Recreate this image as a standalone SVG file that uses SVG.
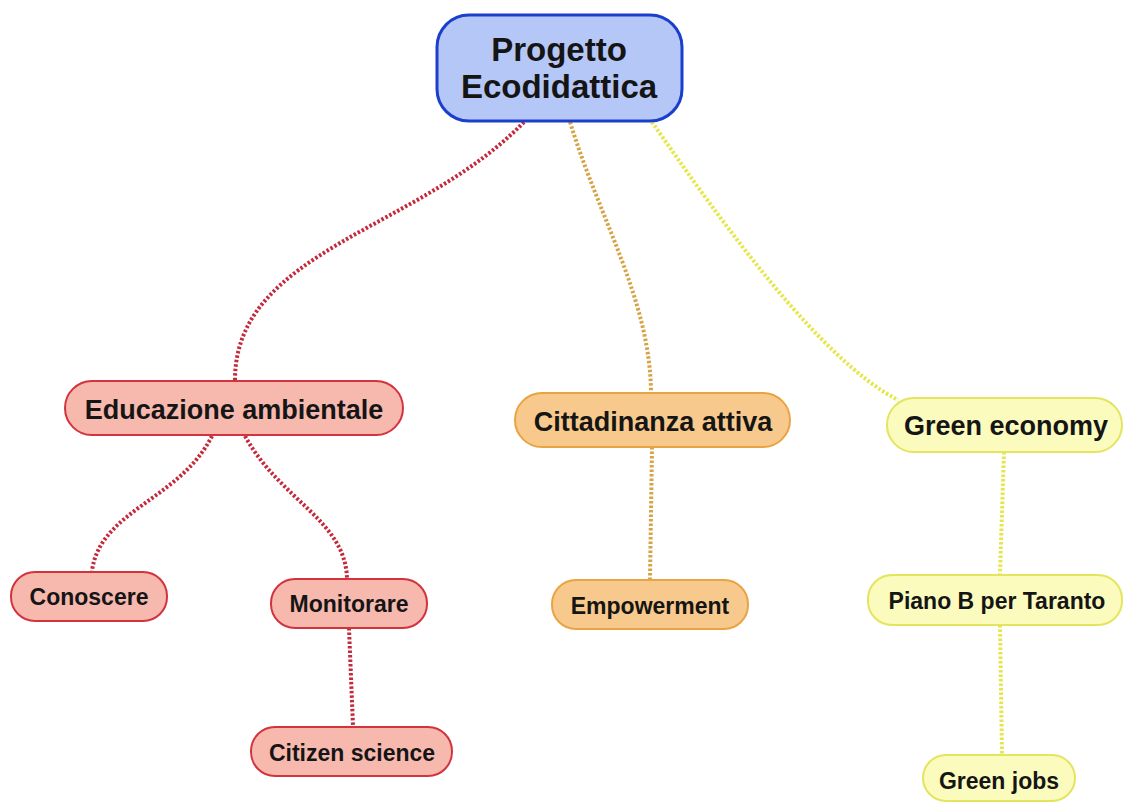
<svg xmlns="http://www.w3.org/2000/svg" width="1123" height="802" viewBox="0 0 1123 802">
<style>
text{font-family:"Liberation Sans",Arial,sans-serif;font-weight:bold;fill:#151515;text-anchor:middle}
.t1{font-size:27px}
.t2{font-size:23px}
.c{fill:none;stroke-width:4;stroke-dasharray:2.5 2}
.r{stroke:#c42a3c}
.o{stroke:#d6a445}
.y{stroke:#e6e64a}
.nr{fill:#f7b8ae;stroke:#d2333d;stroke-width:2}
.no{fill:#f8c98c;stroke:#e8a442;stroke-width:2}
.ny{fill:#fbfbbd;stroke:#e4e45e;stroke-width:2}
</style>
<rect width="1123" height="802" fill="#fff"/>
<g id="connectors">
<path class="c r" d="M524,122 C420,230 235,250 235,380"/>
<path class="c o" d="M570,122 C600,220 650,300 651,392"/>
<path class="c y" d="M652,122 C720,220 820,360 898,400"/>
<path class="c r" d="M212,436 C180,500 100,510 92,571"/>
<path class="c r" d="M245,436 C280,500 345,520 347,578"/>
<path class="c r" d="M349,628 L353,726"/>
<path class="c o" d="M652,447 L650,579"/>
<path class="c y" d="M1004,452 L1000,574"/>
<path class="c y" d="M1000,625 L1002,754"/>
</g>
<g id="root">
<rect x="437" y="15" width="245" height="106" rx="32" fill="#b5c7f7" stroke="#1a3fcc" stroke-width="3"/>
<text x="559" y="61" font-size="33">Progetto</text>
<text x="559" y="98" font-size="33">Ecodidattica</text>
</g>
<g id="educazione">
<rect class="nr" x="65" y="381" width="338" height="54" rx="27"/>
<text class="t1" x="234" y="419">Educazione ambientale</text>
</g>
<g id="cittadinanza">
<rect class="no" x="515" y="393" width="275" height="54" rx="27"/>
<text class="t1" x="653" y="431">Cittadinanza attiva</text>
</g>
<g id="green-economy">
<rect class="ny" x="887" y="398" width="235" height="54" rx="27"/>
<text class="t1" x="1006" y="435">Green economy</text>
</g>
<g id="conoscere">
<rect class="nr" x="11" y="572" width="156" height="49" rx="24"/>
<text class="t2" x="89" y="605">Conoscere</text>
</g>
<g id="monitorare">
<rect class="nr" x="271" y="579" width="156" height="49" rx="24"/>
<text class="t2" x="349" y="612">Monitorare</text>
</g>
<g id="citizen-science">
<rect class="nr" x="251" y="727" width="201" height="49" rx="24"/>
<text class="t2" x="352" y="761">Citizen science</text>
</g>
<g id="empowerment">
<rect class="no" x="552" y="580" width="196" height="49" rx="24"/>
<text class="t2" x="650" y="614">Empowerment</text>
</g>
<g id="piano-b">
<rect class="ny" x="868" y="575" width="254" height="50" rx="24"/>
<text class="t2" x="997" y="609">Piano B per Taranto</text>
</g>
<g id="green-jobs">
<rect class="ny" x="923" y="755" width="152" height="46" rx="23"/>
<text class="t2" x="999" y="789">Green jobs</text>
</g>
</svg>
